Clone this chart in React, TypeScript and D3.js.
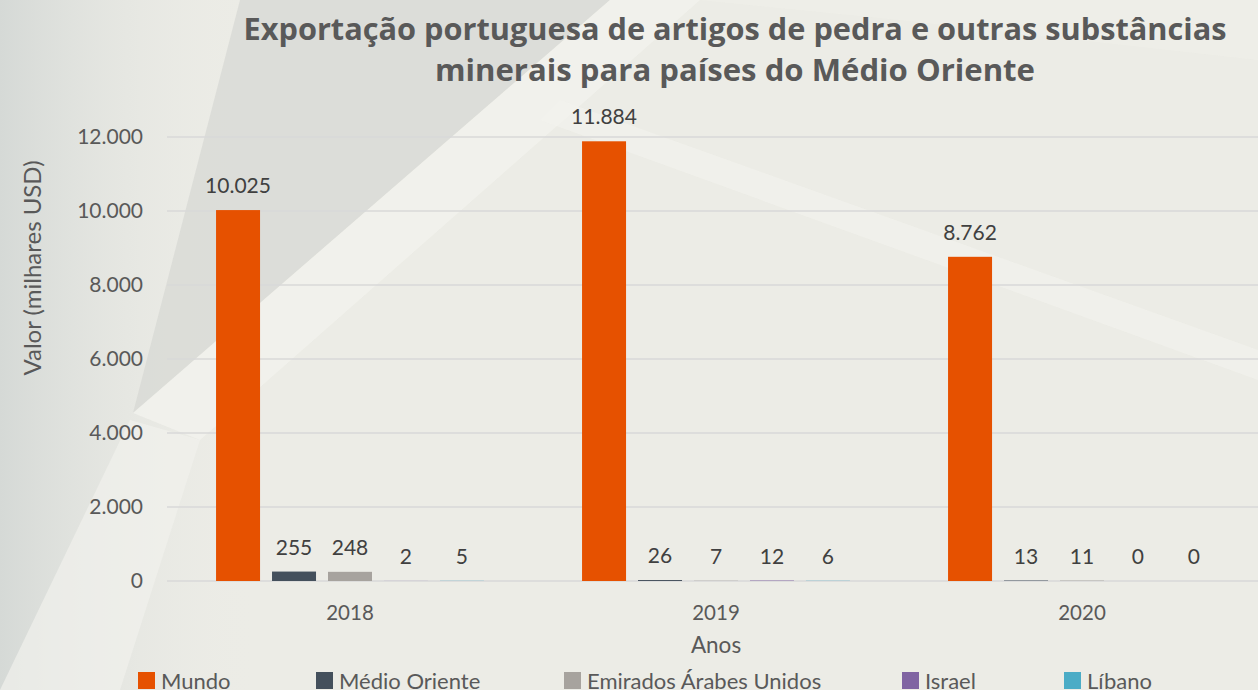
import React from "react";
import * as d3 from "d3";

const years = ["2018", "2019", "2020"];
const seriesNames = ["Mundo", "Médio Oriente", "Emirados Árabes Unidos", "Israel", "Líbano"];
const seriesColors = ["#E65100", "#44505C", "#A7A39E", "#8064A2", "#4BACC6"];
const mundo = [10025, 11884, 8762];
const medioOriente = [255, 26, 13];
const emirados = [248, 7, 11];
const israel = [2, 12, 0];
const libano = [5, 6, 0];
const yTicks = [0, 2000, 4000, 6000, 8000, 10000, 12000];
const titleLines = [
  "Exportação portuguesa de artigos de pedra e outras substâncias",
  "minerais para países do Médio Oriente",
];
const titleWidths = [983, 600];

const W = 1258;
const H = 690;
const FONT = "Lato, 'Open Sans', sans-serif";

const fmt = (v: number) => d3.format(",")(v).replace(/,/g, ".");

export default function App() {
  const values = [mundo, medioOriente, emirados, israel, libano];
  const x0 = d3.scaleBand<string>().domain(years).range([167, 1265]).paddingInner(0.268).paddingOuter(0.134);
  const x1 = d3.scaleBand<string>().domain(seriesNames).range([0, x0.bandwidth()]).paddingInner(0.214);
  const y = d3.scaleLinear().domain([0, 12000]).range([581, 137]);

  return (
    <svg width={W} height={H} style={{ position: "absolute", left: 0, top: 0 }} fontFamily={FONT}>
      <defs>
        <linearGradient id="bgLeft" x1="0" x2="1" y1="0" y2="0">
          <stop offset="0" stopColor="#D5D9D6" />
          <stop offset="1" stopColor="#ECECE7" stopOpacity="0" />
        </linearGradient>
      </defs>
      <rect x={0} y={0} width={W} height={H} fill="#ECECE6" />
      <rect x={0} y={0} width={260} height={H} fill="url(#bgLeft)" />
      <polygon points="133,413 240,0 610,0" fill="#D6D7D3" opacity={0.7} />
      <polygon points="133,413 610,0 700,0 200,440" fill="#F3F3EE" opacity={0.8} />
      <polygon points="0,690 130,420 200,440 120,690" fill="#F1F1EC" opacity={0.7} />
      <polygon points="560,100 1258,350 1258,380 540,120" fill="#F3F3EE" opacity={0.6} />
      <polygon points="700,0 1258,0 1258,60 900,20" fill="#F0F0EA" opacity={0.6} />

      {titleLines.map((t, i) => (
        <text
          key={i}
          x={735}
          y={40 + i * 41}
          textAnchor="middle"
          fontSize={31}
          fontWeight="bold"
          fill="#595959"
          fontFamily="'Open Sans', Lato, sans-serif"
          textLength={titleWidths[i]}
          lengthAdjust="spacingAndGlyphs"
        >
          {t}
        </text>
      ))}

      {yTicks.map((t) => (
        <g key={t}>
          <line x1={167} x2={W} y1={y(t)} y2={y(t)} stroke="#D9D9D9" strokeWidth={1.3} />
          <text x={143} y={y(t) + 7} textAnchor="end" fontSize={21} fill="#595959">
            {fmt(t)}
          </text>
        </g>
      ))}

      {years.map((yr, yi) => (
        <g key={yr} transform={`translate(${x0(yr)},0)`}>
          {seriesNames.map((s, si) => {
            const v = values[si][yi];
            const bx = x1(s)!;
            const top = y(v);
            return (
              <g key={s}>
                <rect x={bx} y={top} width={x1.bandwidth()} height={y(0) - top} fill={seriesColors[si]} />
                <text x={bx + x1.bandwidth() / 2} y={top - 17} textAnchor="middle" fontSize={21} fill="#404040">
                  {fmt(v)}
                </text>
              </g>
            );
          })}
          <text x={x0.bandwidth() / 2} y={620} textAnchor="middle" fontSize={20.5} fill="#595959">
            {yr}
          </text>
        </g>
      ))}

      <text x={716} y={653} textAnchor="middle" fontSize={22.5} fill="#595959">Anos</text>
      <text transform="translate(41,268) rotate(-90)" textAnchor="middle" fontSize={24} fill="#595959">
        Valor (milhares USD)
      </text>

      {seriesNames.map((s, i) => {
        const lx = [138, 316, 564, 902, 1064][i];
        return (
          <g key={s}>
            <rect x={lx} y={672} width={17} height={17} fill={seriesColors[i]} />
            <text x={lx + 23} y={689} fontSize={22} fill="#595959">{s}</text>
          </g>
        );
      })}
    </svg>
  );
}
